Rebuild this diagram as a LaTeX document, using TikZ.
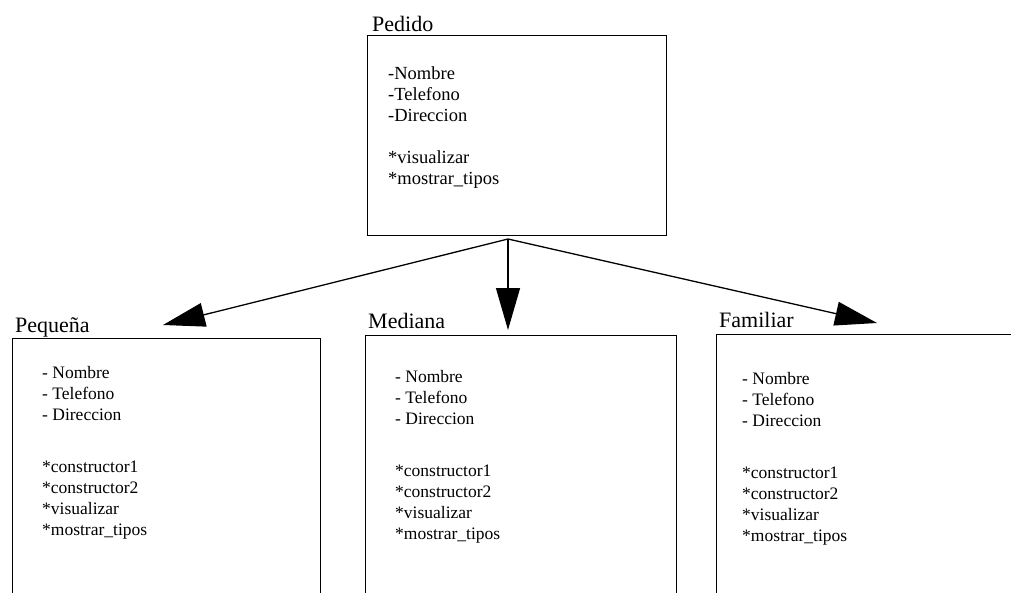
\documentclass[tikz,border=0pt]{standalone}
\usepackage{fontspec}
\setmainfont{Liberation Serif}
\usetikzlibrary{arrows.meta,positioning}
\tikzset{
  caja/.style={draw, line width=1.4pt, rectangle, anchor=north west, inner sep=0pt},
  titulo/.style={inner sep=0pt, font=\fontsize{22}{24}\selectfont},
  lista/.style={inner sep=0pt, align=left, font=\fontsize{17.5}{21}\selectfont},
  hereda/.style={line width=1.3pt, -{Triangle[length=42pt,width=24pt]}}
}
\begin{document}
\begin{tikzpicture}[x=1pt,y=-1pt]
\useasboundingbox (0,0) rectangle (1011,592);
\clip (0,0) rectangle (1011,592);

% draw the parent class
\node[caja, minimum width=299pt, minimum height=200pt] (pedido) at (367,35) {};
\node[titulo, above right=4pt and 5pt of pedido.north west, anchor=base west] (tpedido) {Pedido};
\node[lista, below right=31pt and 21pt of pedido.north west, anchor=north west,
  font=\fontsize{18.5}{21}\selectfont] (lpedido) {
  -Nombre\\
  -Telefono\\
  -Direccion\\[21pt]
  *visualizar\\
  *mostrar\_tipos
};

% draw the child classes
\node[caja, minimum width=308pt, minimum height=300pt] (pequena) at (12,338) {};
\node[titulo, above right=6pt and 3pt of pequena.north west, anchor=base west] (tpequena) {Pequeña};
\node[lista, below right=28pt and 30pt of pequena.north west, anchor=north west] (lpequena) {
  - Nombre\\
  - Telefono\\
  - Direccion\\[31pt]
  *constructor1\\
  *constructor2\\
  *visualizar\\
  *mostrar\_tipos
};

\node[caja, minimum width=311pt, minimum height=300pt] (mediana) at (365,335) {};
\node[titulo, above right=7pt and 3pt of mediana.north west, anchor=base west] (tmediana) {Mediana};
\node[lista, below right=35pt and 30pt of mediana.north west, anchor=north west] (lmediana) {
  - Nombre\\
  - Telefono\\
  - Direccion\\[31pt]
  *constructor1\\
  *constructor2\\
  *visualizar\\
  *mostrar\_tipos
};

\node[caja, minimum width=400pt, minimum height=300pt] (familiar) at (716,334) {};
\node[titulo, above right=7pt and 3pt of familiar.north west, anchor=base west] (tfamiliar) {Familiar};
\node[lista, below right=38pt and 26pt of familiar.north west, anchor=north west] (lfamiliar) {
  - Nombre\\
  - Telefono\\
  - Direccion\\[31pt]
  *constructor1\\
  *constructor2\\
  *visualizar\\
  *mostrar\_tipos
};

% draw the inheritance arrows
\coordinate (apex) at (508,239);
\coordinate (izq) at (163,325);
\coordinate (centro) at (508,330);
\coordinate (der) at (877,323);
\foreach \p in {izq,centro,der}
\draw[hereda] (apex) -- (\p);
\end{tikzpicture}
\end{document}
